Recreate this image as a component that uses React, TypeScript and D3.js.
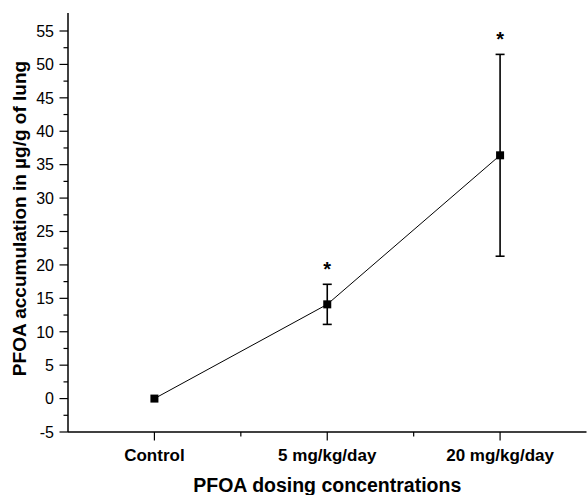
import React, { useEffect, useRef } from "react";
import * as d3 from "d3";

// Data
const categories = ["Control", "5 mg/kg/day", "20 mg/kg/day"];
const means = [0, 14.1, 36.4];
const errors = [0, 3.0, 15.1];
const significant = [false, true, true];
const yTicks = [-5, 0, 5, 10, 15, 20, 25, 30, 35, 40, 45, 50, 55];

export default function App() {
  const ref = useRef<SVGSVGElement>(null);

  useEffect(() => {
    const width = 587,
      height = 495;
    const svg = d3.select(ref.current);
    svg.selectAll("*").remove();

    const font = "Liberation Sans, Arial, sans-serif";

    const x = d3.scaleLinear().domain([0.5, 3.5]).range([68, 586.5]);
    const y = d3.scaleLinear().domain([-5, 55]).range([432, 31]);
    const yTop = y(57.7);

    const data = categories.map((c, i) => ({
      cat: c,
      idx: i + 1,
      mean: means[i],
      err: errors[i],
      sig: significant[i],
    }));

    // Y axis
    const yAxis = svg.append("g").attr("transform", `translate(${x(0.5)},0)`);
    yAxis
      .append("line")
      .attr("y1", yTop)
      .attr("y2", y(-5))
      .attr("stroke", "#000")
      .attr("stroke-width", 1.5);
    const minorY = d3.range(-2.5, 57.5, 5);
    yAxis
      .selectAll("line.minor")
      .data(minorY)
      .enter()
      .append("line")
      .attr("class", "minor")
      .attr("x1", -4.5)
      .attr("x2", 0)
      .attr("y1", (d) => y(d))
      .attr("y2", (d) => y(d))
      .attr("stroke", "#000")
      .attr("stroke-width", 1.2);
    yAxis
      .selectAll("line.major")
      .data(yTicks)
      .enter()
      .append("line")
      .attr("class", "major")
      .attr("x1", -8.5)
      .attr("x2", 0)
      .attr("y1", (d) => y(d))
      .attr("y2", (d) => y(d))
      .attr("stroke", "#000")
      .attr("stroke-width", 1.2);
    yAxis
      .selectAll("text")
      .data(yTicks)
      .enter()
      .append("text")
      .attr("x", -14)
      .attr("y", (d) => y(d))
      .attr("dy", "0.36em")
      .attr("text-anchor", "end")
      .style("font-family", font)
      .style("font-size", "16px")
      .text((d) => d);

    // X axis
    const xAxis = svg.append("g").attr("transform", `translate(0,${y(-5)})`);
    xAxis
      .append("line")
      .attr("x1", x(0.5))
      .attr("x2", x(3.5))
      .attr("stroke", "#000")
      .attr("stroke-width", 1.5);
    xAxis
      .selectAll("line.minor")
      .data([1.5, 2.5])
      .enter()
      .append("line")
      .attr("class", "minor")
      .attr("x1", (d) => x(d))
      .attr("x2", (d) => x(d))
      .attr("y1", 0)
      .attr("y2", 4.5)
      .attr("stroke", "#000")
      .attr("stroke-width", 1.2);
    xAxis
      .selectAll("line.major")
      .data(data)
      .enter()
      .append("line")
      .attr("class", "major")
      .attr("x1", (d) => x(d.idx))
      .attr("x2", (d) => x(d.idx))
      .attr("y1", 0)
      .attr("y2", 8.5)
      .attr("stroke", "#000")
      .attr("stroke-width", 1.2);
    xAxis
      .selectAll("text")
      .data(data)
      .enter()
      .append("text")
      .attr("x", (d) => x(d.idx))
      .attr("y", 28.5)
      .attr("text-anchor", "middle")
      .style("font-family", font)
      .style("font-size", "17px")
      .style("font-weight", "bold")
      .text((d) => d.cat);

    // Axis titles
    svg
      .append("text")
      .attr("x", (x(0.5) + x(3.5)) / 2)
      .attr("y", 492)
      .attr("text-anchor", "middle")
      .style("font-family", font)
      .style("font-size", "19.5px")
      .style("font-weight", "bold")
      .text("PFOA dosing concentrations");

    svg
      .append("text")
      .attr("transform", `translate(26,${(62 + 375) / 2}) rotate(-90)`)
      .attr("text-anchor", "middle")
      .style("font-family", font)
      .style("font-size", "19px")
      .style("font-weight", "bold")
      .text("PFOA accumulation in µg/g of lung");

    // Connecting line
    const line = d3
      .line<(typeof data)[number]>()
      .x((d) => x(d.idx))
      .y((d) => y(d.mean));
    svg
      .append("path")
      .datum(data)
      .attr("d", line)
      .attr("fill", "none")
      .attr("stroke", "#000")
      .attr("stroke-width", 1);

    // Error bars
    const eb = svg
      .selectAll("g.err")
      .data(data.filter((d) => d.err > 0))
      .enter()
      .append("g")
      .attr("class", "err");
    eb.append("line")
      .attr("x1", (d) => x(d.idx))
      .attr("x2", (d) => x(d.idx))
      .attr("y1", (d) => y(d.mean + d.err))
      .attr("y2", (d) => y(d.mean - d.err))
      .attr("stroke", "#000")
      .attr("stroke-width", 1.6);
    [1, -1].forEach((s) => {
      eb.append("line")
        .attr("x1", (d) => x(d.idx) - 4.5)
        .attr("x2", (d) => x(d.idx) + 4.5)
        .attr("y1", (d) => y(d.mean + s * d.err))
        .attr("y2", (d) => y(d.mean + s * d.err))
        .attr("stroke", "#000")
        .attr("stroke-width", 1.6);
    });

    // Markers
    svg
      .selectAll("rect.pt")
      .data(data)
      .enter()
      .append("rect")
      .attr("class", "pt")
      .attr("x", (d) => x(d.idx) - 4)
      .attr("y", (d) => y(d.mean) - 4)
      .attr("width", 8)
      .attr("height", 8)
      .attr("fill", "#000");

    // Significance asterisks
    svg
      .selectAll("text.sig")
      .data(data.filter((d) => d.sig))
      .enter()
      .append("text")
      .attr("class", "sig")
      .attr("x", (d) => x(d.idx))
      .attr("y", (d) => y(d.mean + d.err) - 8)
      .attr("text-anchor", "middle")
      .style("font-family", font)
      .style("font-size", "20px")
      .style("font-weight", "bold")
      .text("*");

    svg.attr("width", width).attr("height", height);
  }, []);

  return (
    <svg
      ref={ref}
      width={587}
      height={495}
      style={{ position: "absolute", left: 0, top: 0, background: "#fff" }}
    />
  );
}
